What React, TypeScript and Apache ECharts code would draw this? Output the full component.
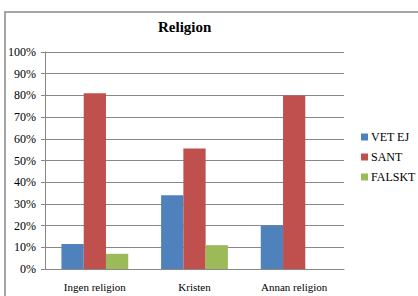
import React, { useEffect, useRef } from "react";
import * as echarts from "echarts";

const categories = ["Ingen religion", "Kristen", "Annan religion"];
const vetEj = [11.5, 34, 20];
const sant = [81, 55.5, 80];
const falskt = [7, 11, 0];
const seriesNames = ["VET EJ", "SANT", "FALSKT"];
const colors = ["#4F81BD", "#C0504D", "#9BBB59"];

export default function App() {
  const ref = useRef<HTMLDivElement>(null);
  useEffect(() => {
    const chart = echarts.init(ref.current!, null, { renderer: "svg" });
    const font = "Liberation Serif, Times New Roman, serif";
    chart.setOption({
      animation: false,
      backgroundColor: "#fff",
      textStyle: { fontFamily: font },
      title: {
        text: "Religion",
        left: 158,
        top: 19,
        padding: 0,
        textStyle: { fontFamily: font, fontSize: 15, fontWeight: "bold", color: "#000" },
      },
      graphic: [
        {
          type: "rect",
          shape: { x: 5, y: 12, width: 430, height: 300 },
          style: { fill: "none", stroke: "#888", lineWidth: 1.5 },
          silent: true,
        },
      ],
      legend: {
        orient: "vertical",
        left: 356,
        top: 126,
        itemWidth: 7,
        itemHeight: 7,
        itemGap: 8,
        icon: "rect",
        textStyle: { fontFamily: font, fontSize: 12, color: "#000", padding: [0, 0, 0, -2] },
        data: seriesNames,
      },
      grid: { left: 45, right: 74, top: 52, bottom: 27 },
      xAxis: {
        type: "category",
        data: categories,
        axisLine: { lineStyle: { color: "#888" } },
        axisTick: { show: false },
        axisLabel: { color: "#000", fontFamily: font, fontSize: 11, margin: 12 },
      },
      yAxis: {
        type: "value",
        min: 0,
        max: 100,
        interval: 10,
        axisLine: { show: true, lineStyle: { color: "#888" } },
        axisTick: { show: true, length: 4, inside: false, lineStyle: { color: "#888" } },
        splitLine: { lineStyle: { color: "#888" } },
        axisLabel: { color: "#000", fontFamily: font, fontSize: 12, margin: 9, formatter: "{value}%" },
      },
      series: [
        { name: seriesNames[0], type: "bar", data: vetEj, itemStyle: { color: colors[0] }, barGap: "0%", barCategoryGap: "33%" },
        { name: seriesNames[1], type: "bar", data: sant, itemStyle: { color: colors[1] }, barGap: "0%", barCategoryGap: "33%" },
        { name: seriesNames[2], type: "bar", data: falskt, itemStyle: { color: colors[2] }, barGap: "0%", barCategoryGap: "33%" },
      ],
    });
    return () => chart.dispose();
  }, []);
  return <div ref={ref} style={{ position: "absolute", left: 0, top: 0, width: 418, height: 296 }} />;
}
